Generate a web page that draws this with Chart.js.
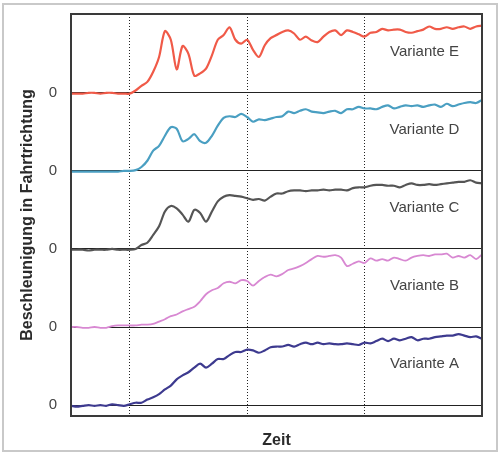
<!DOCTYPE html>
<html>
<head>
<meta charset="utf-8">
<script src="https://cdn.jsdelivr.net/npm/chart.js@4/dist/chart.umd.min.js"></script>
<style>
  html, body { margin: 0; padding: 0; background: #fff; }
  #wrap { width: 502px; height: 454px; position: relative; }
</style>
</head>
<body>
<div id="wrap"><canvas id="chart" width="502" height="454"></canvas></div>
<script>
// time samples (arbitrary units, dotted grid at 10 / 30 / 50)
const time = [0,1,2,3,4,5,6,7,8,9,10,11,12,13,14,15,16,17,18,19,20,21,22,23,24,25,26,27,28,29,30,
  31,32,33,34,35,36,37,38,39,40,41,42,43,44,45,46,47,48,49,50,51,52,53,54,55,56,57,58,59,60,
  61,62,63,64,65,66,67,68,69,70];
const gridTimes = [10, 30, 50];

// acceleration per variant, in % of one band height (0 = own zero line)
const varA = [-1,-2,-1,0,-1,0,-1,1,0,-1,1,
  3,3,7,10,14,20,25,33,38,42,
  48,53,48,53,59,59,64,68,68,71,
  70,67,70,74,75,75,77,75,78,80,
  78,80,78,79,78,78,79,78,77,80,
  79,82,85,82,85,83,85,87,83,85,
  85,87,88,89,89,91,89,87,88,85];
const varB = [0,0,-1,-1,0,-1,-1,1,2,2,2,
  2,3,3,4,7,10,14,16,20,23,
  26,33,42,47,50,56,58,56,60,59,
  53,59,64,67,65,68,73,75,78,82,
  87,91,90,91,92,89,78,81,84,82,
  88,85,87,85,89,87,85,89,91,92,
  91,93,93,94,89,91,89,92,87,93];
const varC = [-1,-1,-1,-2,-1,-1,-1,0,-1,-1,-1,
  0,5,8,18,29,48,55,52,44,35,
  50,46,35,48,61,67,69,68,67,65,
  63,64,62,67,71,71,74,75,75,74,
  75,75,76,75,76,76,75,78,79,79,
  81,82,82,81,81,79,82,84,82,82,
  83,82,83,84,85,86,86,88,85,84];
const varD = [-1,-1,-1,-1,-1,-1,-1,-1,-1,0,0,
  1,5,13,26,32,45,56,54,38,41,
  47,38,36,45,58,68,70,69,73,69,
  63,66,65,67,69,70,76,74,77,79,
  76,75,74,76,77,74,79,79,82,80,
  80,79,82,84,80,82,84,83,84,82,
  84,85,82,86,83,85,87,88,87,91];
const varE = [-1,-1,-1,0,0,-1,0,0,-1,-1,-1,
  3,9,14,27,46,79,68,30,60,50,
  22,25,31,48,68,74,84,68,63,68,
  55,46,61,70,74,78,80,76,68,72,
  67,65,72,78,80,74,80,78,75,72,
  77,78,82,80,81,81,78,77,79,81,
  85,82,82,84,82,84,85,82,85,86];

const names = ["Variante A", "Variante B", "Variante C", "Variante D", "Variante E"];
const seriesList = [varA, varB, varC, varD, varE];
const bandBase = [0, 100, 200, 300, 400];
const colors = ["#3d3a8f", "#d888d2", "#555555", "#4a9fc2", "#f05a48"];
const widths = [2.2, 1.8, 2.2, 2.2, 2.2];

const datasets = seriesList.map((vals, i) => ({
  label: names[i],
  data: vals.map((v, k) => ({ x: time[k], y: v + bandBase[i] })),
  borderColor: colors[i],
  borderWidth: widths[i],
  pointRadius: 0,
  tension: 0.3,
  fill: false,
}));

// frame around plot + light outer border + variant labels
const decor = {
  id: "decor",
  beforeDraw(chart) {
    const ctx = chart.ctx;
    ctx.save();
    ctx.fillStyle = "#fff";
    ctx.fillRect(0, 0, chart.width, chart.height);
    ctx.strokeStyle = "#c9c9c9";
    ctx.lineWidth = 2;
    ctx.strokeRect(3, 4, 494, 447);
    ctx.restore();
  },
  afterDatasetsDraw(chart) {
    const { ctx, chartArea: a, scales: { x, y } } = chart;
    ctx.save();
    ctx.strokeStyle = "#3a3a3a";
    ctx.lineWidth = 2;
    ctx.strokeRect(a.left, a.top, a.right - a.left, a.bottom - a.top);
    ctx.fillStyle = "#444";
    ctx.font = "15px 'Liberation Sans', Arial, sans-serif";
    ctx.textAlign = "center";
    ctx.textBaseline = "middle";
    names.forEach((n, i) => {
      ctx.fillText(n, x.getPixelForValue(60.2), y.getPixelForValue(bandBase[i] + 53));
    });
    ctx.restore();
  }
};

new Chart(document.getElementById("chart"), {
  type: "line",
  data: { datasets },
  options: {
    responsive: false,
    animation: false,
    events: [],
    layout: { padding: { left: 6, right: 20, top: 14, bottom: 4 } },
    plugins: { legend: { display: false }, tooltip: { enabled: false } },
    scales: {
      x: {
        type: "linear",
        min: 0,
        max: 70,
        afterBuildTicks: (s) => { s.ticks = gridTimes.map(v => ({ value: v })); },
        afterFit: (s) => { s.height = 34; s.paddingLeft = 0; s.paddingRight = 0; },
        ticks: { display: false },
        grid: { color: "#222", lineWidth: 1, drawTicks: false },
        border: { display: false, dash: [1, 2] },
        title: {
          display: true,
          text: "Zeit",
          color: "#2b2b2b",
          font: { family: "'Liberation Sans', Arial, sans-serif", size: 16, weight: "bold" },
          padding: { top: 0, bottom: 0 },
        },
      },
      y: {
        min: -14,
        max: 501,
        afterBuildTicks: (s) => { s.ticks = bandBase.map(v => ({ value: v })); },
        afterFit: (s) => { s.width = 65; s.paddingTop = 0; s.paddingBottom = 0; },
        ticks: {
          callback: () => "0",
          color: "#444",
          padding: 14,
          font: { family: "'Liberation Sans', Arial, sans-serif", size: 15 },
        },
        grid: { color: "#222", lineWidth: 1, drawTicks: false },
        border: { display: false },
        title: {
          display: true,
          text: "Beschleunigung in Fahrtrichtung",
          color: "#2b2b2b",
          font: { family: "'Liberation Sans', Arial, sans-serif", size: 16, weight: "bold" },
          padding: { top: 12, bottom: 0 },
        },
      },
    },
  },
  plugins: [decor],
});
</script>
</body>
</html>
